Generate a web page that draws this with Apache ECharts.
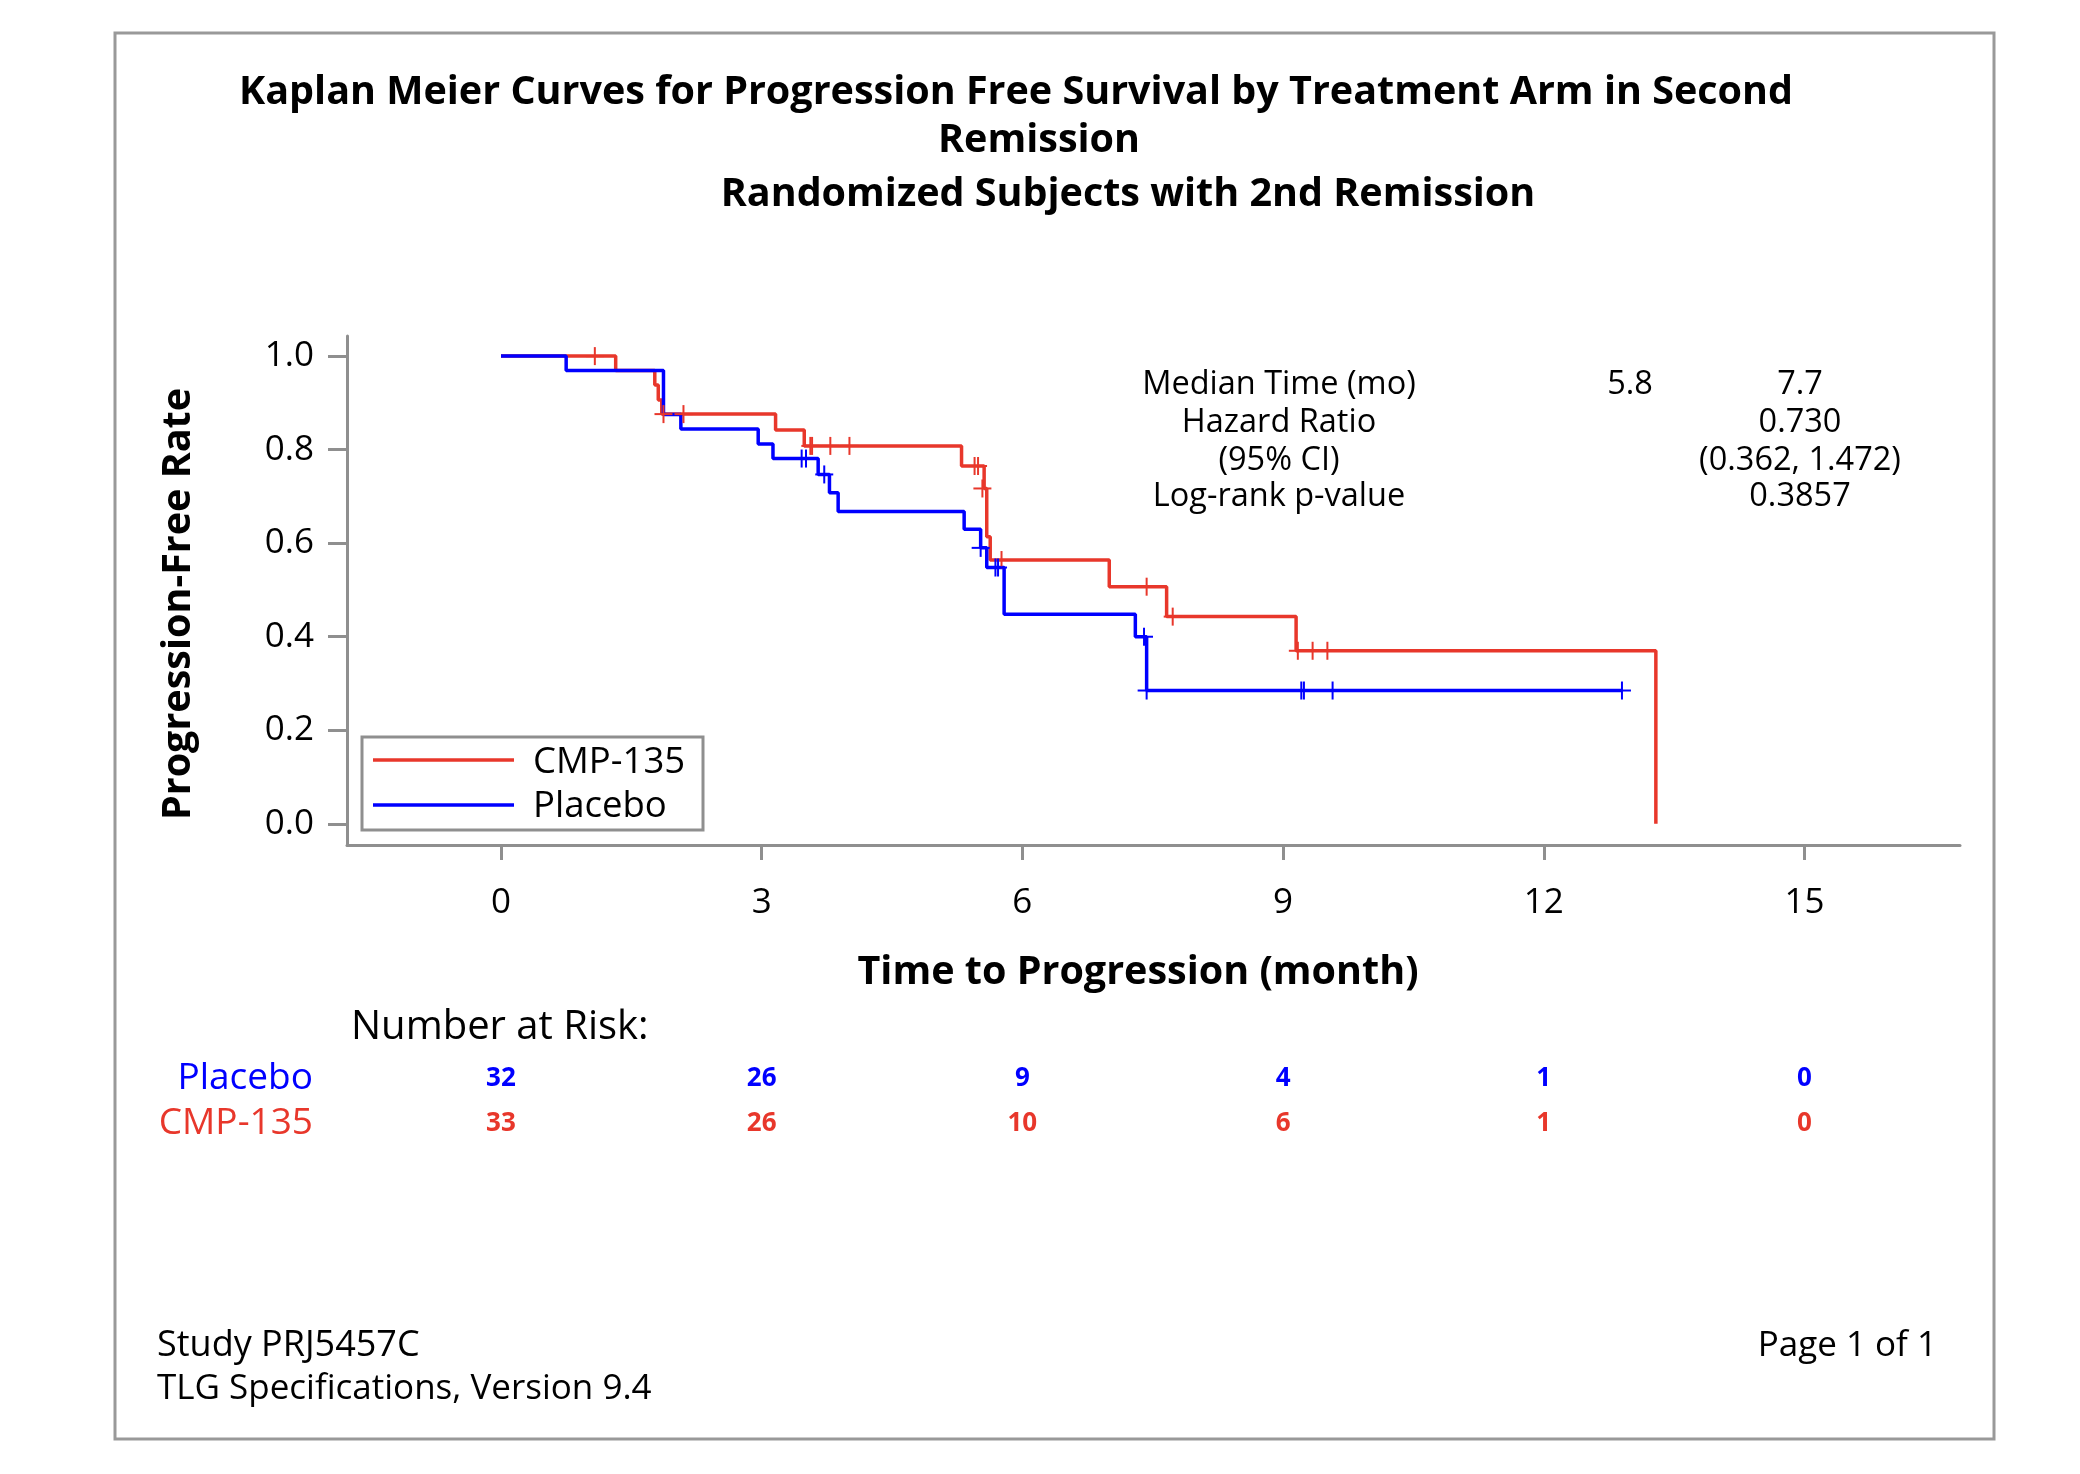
<!DOCTYPE html>
<html><head><meta charset="utf-8">
<script src="https://cdn.jsdelivr.net/npm/echarts@6/dist/echarts.min.js"></script>
<style>html,body{margin:0;padding:0;background:#fff}#c{width:2080px;height:1474px}</style>
</head><body><div id="c"></div>
<script>
// ---------- data ----------
const xTicks = [0, 3, 6, 9, 12, 15];
const yTicks = [0, 0.2, 0.4, 0.6, 0.8, 1.0];
const riskTimes = [0, 3, 6, 9, 12, 15];
const placeboRisk = [32, 26, 9, 4, 1, 0];
const cmpRisk = [33, 26, 10, 6, 1, 0];

// Kaplan-Meier steps (time in months, survival after step)
const placeboT = [0, 0.75, 1.87, 2.07, 2.96, 3.13, 3.65, 3.78, 3.88, 5.33, 5.52, 5.59, 5.79, 7.30, 7.43, 12.90];
const placeboS = [1.0, 0.969, 0.875, 0.844, 0.812, 0.781, 0.747, 0.708, 0.668, 0.630, 0.590, 0.548, 0.448, 0.400, 0.285, 0.285];
const cmpT = [0, 1.32, 1.77, 1.81, 1.85, 3.16, 3.49, 5.30, 5.56, 5.59, 5.63, 7.00, 7.66, 9.15, 13.29];
const cmpS = [1.0, 0.969, 0.938, 0.906, 0.876, 0.842, 0.808, 0.765, 0.717, 0.614, 0.564, 0.507, 0.443, 0.370, 0.0];

// censored observations
const placeboCensT = [3.46, 3.51, 3.72, 5.52, 5.69, 5.72, 7.40, 7.43, 9.21, 9.24, 9.57, 12.90];
const placeboCensS = [0.781, 0.781, 0.747, 0.590, 0.548, 0.548, 0.400, 0.285, 0.285, 0.285, 0.285, 0.285];
const cmpCensT = [1.08, 1.87, 2.10, 3.56, 3.58, 3.79, 4.01, 5.45, 5.49, 5.54, 5.76, 7.43, 7.73, 9.17, 9.34, 9.51];
const cmpCensS = [1.0, 0.876, 0.876, 0.808, 0.808, 0.808, 0.808, 0.765, 0.765, 0.717, 0.564, 0.507, 0.443, 0.370, 0.370, 0.370];

const statLabels = ['Median Time (mo)', 'Hazard Ratio', '(95% CI)', 'Log-rank p-value'];
const statCol1 = ['5.8', '', '', ''];
const statCol2 = ['7.7', '0.730', '(0.362, 1.472)', '0.3857'];

// ---------- style ----------
const RED = '#e8372b', BLUE = '#0000ff', GRAY = '#8f8f8f';
const FONT = '"Open Sans", "Noto Sans", sans-serif';
const XMIN = -1.772, XMAX = 16.79, YMIN = -0.0453, YMAX = 1.043;

const zip = (a, b) => a.map((v, i) => [v, b[i]]);

function censorSeries(name, data, color) {
  return {
    name, type: 'custom', xAxisIndex: 0, yAxisIndex: 0, data, silent: true, z: 4,
    renderItem: (params, api) => {
      const p = api.coord([api.value(0), api.value(1)]);
      const h = 9;
      return { type: 'group', children: [
        { type: 'line', shape: { x1: p[0] - h, y1: p[1], x2: p[0] + h, y2: p[1] }, style: { stroke: color, lineWidth: 2 } },
        { type: 'line', shape: { x1: p[0], y1: p[1] - h, x2: p[0], y2: p[1] + h }, style: { stroke: color, lineWidth: 2 } }
      ]};
    }
  };
}

function txt(text, x, y, size, opts) {
  opts = opts || {};
  return {
    type: 'text', x: x, y: y, rotation: opts.rotation || 0, silent: true,
    style: {
      text: text, x: 0, y: 0,
      font: (opts.weight || 'normal') + ' ' + size + 'px ' + FONT,
      fill: opts.color || '#000',
      align: opts.align || 'center', verticalAlign: 'middle',
      textAlign: opts.align || 'center', textVerticalAlign: 'middle'
    }
  };
}

const graphics = [
  { type: 'rect', shape: { x: 115, y: 33, width: 1879, height: 1406 }, style: { fill: 'none', stroke: '#999', lineWidth: 3 }, silent: true },
  txt('Kaplan Meier Curves for Progression Free Survival by Treatment Arm in Second', 1016, 93, 39.5, { weight: 'bold' }),
  txt('Remission', 1039, 141, 39.5, { weight: 'bold' }),
  txt('Randomized Subjects with 2nd Remission', 1128, 195, 39.5, { weight: 'bold' }),
  txt('Progression-Free Rate', 179, 604, 39.5, { weight: 'bold', rotation: Math.PI / 2 }),
  txt('Time to Progression (month)', 1138, 973, 39.5, { weight: 'bold' }),
  txt('Number at Risk:', 351, 1028, 40, { align: 'left' }),
  // legend
  { type: 'rect', shape: { x: 362, y: 737, width: 341, height: 93 }, style: { fill: '#fff', stroke: GRAY, lineWidth: 3 }, silent: true, z: 10 },
  { type: 'line', shape: { x1: 373, y1: 760, x2: 514, y2: 760 }, style: { stroke: RED, lineWidth: 3.5 }, silent: true, z: 11 },
  { type: 'line', shape: { x1: 373, y1: 805, x2: 514, y2: 805 }, style: { stroke: BLUE, lineWidth: 3.5 }, silent: true, z: 11 },
  Object.assign(txt('CMP-135', 533, 763, 36.5, { align: 'left' }), { z: 11 }),
  Object.assign(txt('Placebo', 533, 807, 36.5, { align: 'left' }), { z: 11 }),
  // footer
  txt('Study PRJ5457C', 157, 1346, 36, { align: 'left' }),
  txt('TLG Specifications, Version 9.4', 157, 1389, 35, { align: 'left' }),
  txt('Page 1 of 1', 1937, 1346, 35, { align: 'right' })
];
const statY = [385, 423, 461, 497];
statLabels.forEach((t, i) => {
  graphics.push(txt(t, 1279, statY[i], 32.5));
  if (statCol1[i]) graphics.push(txt(statCol1[i], 1630, statY[i], 32.5));
  if (statCol2[i]) graphics.push(txt(statCol2[i], 1800, statY[i], 32.5));
});

const riskSeries = (name, arr, color) => ({
  name: name + ' at risk', type: 'scatter', xAxisIndex: 1, yAxisIndex: 1, silent: true,
  symbolSize: 1, itemStyle: { color: color, opacity: 0 },
  data: riskTimes.map((t, i) => [t, name, arr[i]]),
  label: { show: true, position: 'inside', opacity: 1, formatter: p => String(p.value[2]), fontFamily: FONT, fontSize: 26, fontWeight: 'bold', color: color, textBorderWidth: 0 }
});

const option = {
  backgroundColor: '#fff',
  animation: false,
  grid: [
    { left: 347, top: 336, width: 1613, height: 509 },
    { left: 347, top: 1056, width: 1613, height: 90 }
  ],
  xAxis: [
    {
      type: 'value', gridIndex: 0, min: XMIN, max: XMAX,
      axisLine: { show: true, onZero: false, lineStyle: { color: GRAY, width: 3 } },
      axisTick: { show: true, customValues: xTicks, length: 15, lineStyle: { color: GRAY, width: 3 } },
      axisLabel: { show: true, customValues: xTicks, margin: 41, fontSize: 35, color: '#000', fontFamily: FONT },
      splitLine: { show: false }
    },
    { type: 'value', gridIndex: 1, min: XMIN, max: XMAX, show: false }
  ],
  yAxis: [
    {
      type: 'value', gridIndex: 0, min: YMIN, max: YMAX,
      axisLine: { show: true, onZero: false, lineStyle: { color: GRAY, width: 3 } },
      axisTick: { show: true, customValues: yTicks, length: 19, lineStyle: { color: GRAY, width: 3 } },
      axisLabel: { show: true, customValues: yTicks, margin: 33, fontSize: 35, color: '#000', fontFamily: FONT, formatter: v => v.toFixed(1) },
      splitLine: { show: false }
    },
    {
      type: 'category', gridIndex: 1, data: ['CMP-135', 'Placebo'],
      axisLine: { show: false }, axisTick: { show: false }, splitLine: { show: false },
      axisLabel: {
        interval: 0, margin: 34, fontFamily: FONT, fontSize: 37,
        formatter: v => v === 'Placebo' ? '{b|Placebo}' : '{r|CMP-135}',
        rich: { b: { color: BLUE, fontSize: 37, fontFamily: FONT }, r: { color: RED, fontSize: 37, fontFamily: FONT } }
      }
    }
  ],
  series: [
    { name: 'CMP-135', type: 'line', step: 'end', showSymbol: false, silent: true, z: 2,
      lineStyle: { color: RED, width: 3.5 }, data: zip(cmpT, cmpS) },
    { name: 'Placebo', type: 'line', step: 'end', showSymbol: false, silent: true, z: 3,
      lineStyle: { color: BLUE, width: 3.5 }, data: zip(placeboT, placeboS) },
    censorSeries('CMP-135 censored', zip(cmpCensT, cmpCensS), RED),
    censorSeries('Placebo censored', zip(placeboCensT, placeboCensS), BLUE),
    riskSeries('Placebo', placeboRisk, BLUE),
    riskSeries('CMP-135', cmpRisk, RED)
  ],
  graphic: graphics
};

const chart = echarts.init(document.getElementById('c'), null, { renderer: 'canvas' });
chart.setOption(option);
</script>
</body></html>
